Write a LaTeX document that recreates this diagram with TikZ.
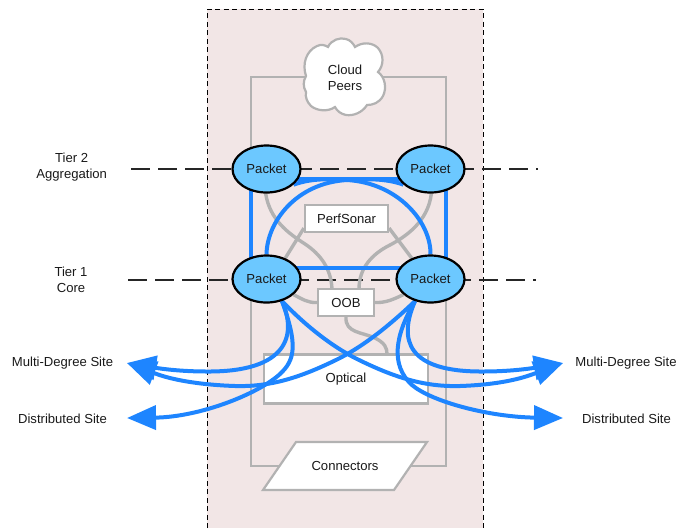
\documentclass[tikz,border=0pt]{standalone}
\usepackage{fontspec}
\setmainfont{Liberation Sans}
\usetikzlibrary{shapes.geometric,arrows.meta}
\pgfdeclarelayer{zone}\pgfdeclarelayer{wires}\pgfdeclarelayer{boxes}\pgfdeclarelayer{links}\pgfdeclarelayer{top}
\pgfsetlayers{zone,wires,boxes,links,top,main}
\definecolor{zonepink}{HTML}{F2E6E6}
\definecolor{linkblue}{HTML}{1E85FF}
\definecolor{packetblue}{HTML}{6CC8FF}
\definecolor{wiregrey}{HTML}{B2B2B2}
\tikzset{
  every node/.style={font=\fontsize{13.1}{16}\selectfont,text=black!90},
  packet/.style={ellipse,draw=black,line width=2.2pt,fill=packetblue,minimum width=68pt,minimum height=47pt,inner sep=0pt},
  whitebox/.style={rectangle,draw=wiregrey,line width=2.2pt,fill=white,inner sep=0pt},
  wire/.style={draw=wiregrey,line width=3.4pt},
  outline/.style={draw=wiregrey,line width=2.2pt},
  blueline/.style={draw=linkblue,line width=4pt},
  bluearrow/.style={draw=linkblue,line width=4pt,-{Triangle[length=29pt,width=24pt,fill=linkblue]}},
  tierline/.style={draw=black!85,line width=1.3pt,dash pattern=on 18.5pt off 8.5pt},
  label/.style={align=center,inner sep=0pt}
}
\begin{document}
\begin{tikzpicture}[x=1pt,y=-1pt]
\useasboundingbox (0,0) rectangle (677,528);

\begin{pgfonlayer}{zone}
  \fill[zonepink] (207,9) rectangle (483,528);
  \draw[black,line width=1pt,dash pattern=on 5pt off 3.5pt] (207,528) -- (207,9) -- (483,9) -- (483,528);
\end{pgfonlayer}

\begin{pgfonlayer}{top}
  \node[packet] (tl) at (266.5,169) {Packet};
  \node[packet] (tr) at (430.5,169) {Packet};
  \node[packet] (bl) at (266.5,279) {Packet};
  \node[packet] (br) at (430.5,279) {Packet};
\end{pgfonlayer}

\begin{pgfonlayer}{boxes}
  \node[whitebox,minimum width=83pt,minimum height=27pt] (perf) at (346.5,218.5) {PerfSonar};
  \node[whitebox,minimum width=56pt,minimum height=27pt] (oob) at (346,302.5) {OOB};
  \node[whitebox,minimum width=164pt,minimum height=49pt] (optical) at (346,379) {Optical};
  \path[outline,fill=white] (306,76)
     .. controls (302,64) and (306,51) .. (317,46)
     .. controls (321,44) and (325,45) .. (328,47)
     .. controls (331,40) and (340,37) .. (346,39)
     .. controls (350,40) and (353,43) .. (355,47)
     .. controls (362,42) and (372,42) .. (378,48)
     .. controls (384,55) and (384,65) .. (378,72)
     .. controls (385,77) and (387,88) .. (383,96)
     .. controls (379,103) and (373,105) .. (367,105)
     .. controls (362,113) and (353,116) .. (346,115)
     .. controls (341,114) and (337,111) .. (335,107)
     .. controls (328,112) and (317,111) .. (311,106)
     .. controls (307,102) and (305,97) .. (306,92)
     .. controls (303,87) and (303,81) .. (306,76) -- cycle;
  \node[align=center,font=\fontsize{13.1}{16}\selectfont] (cloudt) at (345,77.5) {Cloud\\Peers};
  \path[outline,fill=white] (296,442) -- (427,442) -- (394,490) -- (263,490) -- cycle;
  \node (conn) at (345,466) {Connectors};
\end{pgfonlayer}

\node[label] (t2) at (71.7,167) {Tier 2\\Aggregation};
\node[label] (t1) at (71,280) {Tier 1\\Core};
\node[label] (ml) at (62.5,363) {Multi-Degree Site};
\node[label] (dl) at (62.5,419) {Distributed Site};
\node[label] (mr) at (626,363) {Multi-Degree Site};
\node[label] (dr) at (626.5,419) {Distributed Site};

\coordinate (d2a) at (131,169);
\coordinate (d2b) at (538,169);
\coordinate (d1a) at (128,280);
\coordinate (d1b) at (536,280);
\coordinate (tipml) at (127,363);
\coordinate (tipmr) at (563,363);
\coordinate (tipdl) at (127,418);
\coordinate (tipdr) at (563,418);

\begin{pgfonlayer}{wires}
  \draw[outline] (251,466) -- (251,77) -- (446,77) -- (446,466) -- cycle;
  \draw[tierline] (d2a) -- (d2b);
  \draw[tierline] (d1a) -- (d1b);
  % grey links
  \draw[wire] (tl.-92) .. controls (270,220) and (288,233) .. (305,244)
     .. controls (320,254) and (331,268) .. (332,289);
  \draw[wire] (tr.-88) .. controls (428,222) and (405,237) .. (390,245)
     .. controls (372,254) and (359,268) .. (359,289);
  \draw[wire] (perf.south west) ++(0,-5) -- (bl.48);
  \draw[wire] (perf.south east) ++(0,-5) -- (br.132);
  \draw[wire] (bl.-30) .. controls (302,299) and (308,303) .. (oob.west);
  \draw[wire] (br.-150) .. controls (394,299) and (386,303) .. (oob.east);
  \draw[wire] (oob.south) .. controls (345,333) and (362,332) .. (375,338)
     .. controls (385,343) and (387,348) .. (387,354);
\end{pgfonlayer}

\begin{pgfonlayer}{links}
  \draw[blueline] (251,179) rectangle (446,268);
  % large arcs
  \draw[blueline] (bl.90) .. controls (267,222) and (296,183) .. (347,180)
     .. controls (365,179) and (385,178) .. (tr.-150);
  \draw[blueline] (br.90) .. controls (431,222) and (398,183) .. (347,180)
     .. controls (330,179) and (312,178) .. (tl.-30);
  % left fan
  \draw[bluearrow] (bl.-55) .. controls (297,335) and (288,372) .. (207,371.5)
     .. controls (188,371.5) and (170,370) .. (156.6,368) -- (tipml);
  \draw[bluearrow] (bl.-55) .. controls (298,345) and (295,360) .. (280,374)
     .. controls (258,394) and (200,417) .. (tipdl);
  \draw[bluearrow] (br.-125) .. controls (390,325) and (365,345) .. (340,358)
     .. controls (300,378) and (270,387) .. (235,386)
     .. controls (205,385) and (175,381) .. (155,373.4) -- (tipml);
  % right fan
  \draw[bluearrow] (br.-125) .. controls (398,340) and (407,372) .. (483,371.5)
     .. controls (502,371.5) and (520,370) .. (533.4,368) -- (tipmr);
  \draw[bluearrow] (br.-125) .. controls (395,335) and (390,365) .. (412,385)
     .. controls (432,402) and (490,417) .. (tipdr);
  \draw[bluearrow] (bl.-55) .. controls (305,325) and (330,345) .. (355,358)
     .. controls (395,378) and (425,387) .. (460,386)
     .. controls (490,385) and (515,381) .. (535,373.4) -- (tipmr);
\end{pgfonlayer}
\end{tikzpicture}
\end{document}
